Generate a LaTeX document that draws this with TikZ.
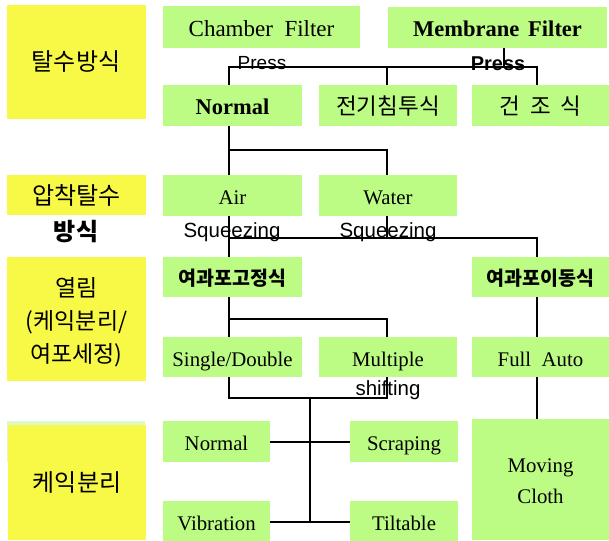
\documentclass[tikz,border=0pt]{standalone}
\usepackage{fontspec}
\setmainfont{Liberation Serif}
\setsansfont{Liberation Sans}
\newfontfamily\kr{Noto Sans CJK KR}
\definecolor{ylw}{RGB}{248,248,70}
\definecolor{grn}{RGB}{188,252,133}
\definecolor{pale}{RGB}{222,248,200}
\begin{document}
\begin{tikzpicture}[x=1pt,y=-1pt,
  gbox/.style={fill=grn,inner sep=0pt,outer sep=0pt,minimum height=41pt,minimum width=139pt,
    text height=18pt,text depth=0pt,font=\fontsize{20.8}{24}\selectfont},
  ybox/.style={fill=ylw,inner sep=0pt,outer sep=0pt,minimum width=139pt,
    font=\kr\fontsize{24}{33}\selectfont,align=center},
  ytext/.style={inner sep=0pt,font=\kr\fontsize{23}{33}\selectfont,align=center},
  bigb/.style={font=\bfseries\fontsize{22.5}{26}\selectfont},
  krg/.style={font=\kr\fontsize{22.5}{24}\selectfont},
  krb/.style={font=\kr\bfseries\fontsize{19.5}{22}\selectfont},
  lab/.style={inner sep=0pt,font=\sffamily\fontsize{20.5}{24}\selectfont},
  conn/.style={line width=2.4pt}]
\useasboundingbox (0,0) rectangle (609,540);
% yellow category boxes
\node[ybox,minimum height=114pt] (y1) at (76,62) {탈수방식};
\node[ybox,minimum height=40pt] (y2) at (76.5,195) {압착탈수};
\node[inner sep=0pt,font=\kr\bfseries\fontsize{24}{26}\selectfont] (y2b) at (76,232) {방식};
\node[ybox,minimum height=124pt] (y3) at (76.5,319) {};
\node[ytext] (y3t) at (76.5,322.5) {열림\\(케익분리/\\여포세정)};
\node[fill=pale,inner sep=0pt,minimum width=138pt,minimum height=41pt] (y4s) at (76,441.5) {};
\node[ybox,minimum width=138pt,minimum height=115pt] (y4) at (77,482.5) {케익분리};
% green boxes
\node[gbox,minimum width=197pt,minimum height=42pt,text height=19pt,font=\fontsize{23}{26}\selectfont] (cf) at (261.5,27) {Chamber\hspace{0.5em}Filter};
\node[gbox,minimum width=219pt,text height=19pt,bigb] (mf) at (497.5,27.5) {Membrane\hspace{0.4em}Filter};
\node[gbox,text height=19pt,bigb] (n1) at (232.5,105.5) {Normal};
\node[gbox,minimum width=138pt,krg] (ep) at (388,105.5) {전기침투식};
\node[gbox,minimum width=137pt,krg] (dr) at (540.5,105.5) {건\hspace{0.45em}조\hspace{0.45em}식};
\node[gbox] (air) at (232.5,195.5) {Air};
\node[gbox,minimum width=138pt] (water) at (388,195.5) {Water};
\node[gbox,minimum height=40pt,text height=16pt,krb] (fix) at (232.5,277) {여과포고정식};
\node[gbox,minimum width=137pt,minimum height=40pt,text height=16pt,krb] (mov) at (540.5,277) {여과포이동식};
\node[gbox,minimum height=40pt] (sd) at (232.5,357) {Single/Double};
\node[gbox,minimum width=138pt,minimum height=40pt] (mult) at (388,357) {Multiple};
\node[gbox,minimum width=137pt,minimum height=40pt] (fa) at (540.5,357) {Full\hspace{0.5em}Auto};
\node[gbox,minimum width=107pt] (nm) at (216.5,441.5) {Normal};
\node[gbox,minimum width=108pt] (sc) at (404,441.5) {Scraping};
\node[gbox,minimum width=107pt,minimum height=40pt] (vib) at (216.5,521) {Vibration};
\node[gbox,minimum width=108pt,minimum height=40pt] (tilt) at (404,521) {Tiltable};
\node[fill=grn,inner sep=0pt,minimum width=137pt,minimum height=121pt] (mc) at (540.5,479.5) {};
\node[inner sep=0pt,align=center,font=\fontsize{20.8}{31}\selectfont] (mct) at (540.5,481.5) {Moving\\Cloth};
% junction coordinates
\coordinate (a0) at (504,67);
\coordinate (a1) at (229,67);
\coordinate (a2) at (387,67);
\coordinate (a3) at (537,67);
\coordinate (b1) at (229,150);
\coordinate (b2) at (387,150);
\coordinate (c1) at (229,238);
\coordinate (c2) at (387,238);
\coordinate (c3) at (537,238);
\coordinate (d1) at (229,319);
\coordinate (d2) at (387,319);
\coordinate (e1) at (229,398);
\coordinate (e2) at (387,398);
\coordinate (e3) at (310,398);
\coordinate (f1) at (310,442);
\coordinate (f2) at (310,522);
\coordinate (g1) at (537,377);
% connectors
\draw[conn] (mf.south -| a0) -- (a0);
\draw[conn] (n1.north -| a1) -- (a1) -- (a3) -- (dr.north -| a3);
\draw[conn] (a2) -- (ep.north -| a2);
\draw[conn] (n1.south -| b1) -- (air.north -| b1);
\draw[conn] (b1) -- (b2) -- (water.north -| b2);
\draw[conn] (air.south -| c1) -- (fix.north -| c1);
\draw[conn] (c1) -- (c3) -- (mov.north -| c3);
\draw[conn] (water.south -| c2) -- (c2);
\draw[conn] (fix.south -| d1) -- (sd.north -| d1);
\draw[conn] (d1) -- (d2) -- (mult.north -| d2);
\draw[conn] (mov.south -| c3) -- (fa.north -| c3);
\draw[conn] (fa.south -| g1) -- (mc.north -| g1);
\draw[conn] (sd.south -| e1) -- (e1) -- (e2) -- (mult.south -| e2);
\draw[conn] (e3) -- (f2);
\draw[conn] (nm.east |- f1) -- (sc.west |- f1);
\draw[conn] (vib.east |- f2) -- (tilt.west |- f2);
% overlapping labels
\node[lab,font=\sffamily\fontsize{19}{22}\selectfont] (p1) at (262,63) {Press};
\node[lab,font=\sffamily\bfseries\fontsize{20}{22}\selectfont] (p2) at (498,64) {Press};
\node[lab] (s1) at (232,232) {Squeezing};
\node[lab] (s2) at (388,232) {Squeezing};
\node[lab] (s3) at (388,390) {shifting};
\end{tikzpicture}
\end{document}
